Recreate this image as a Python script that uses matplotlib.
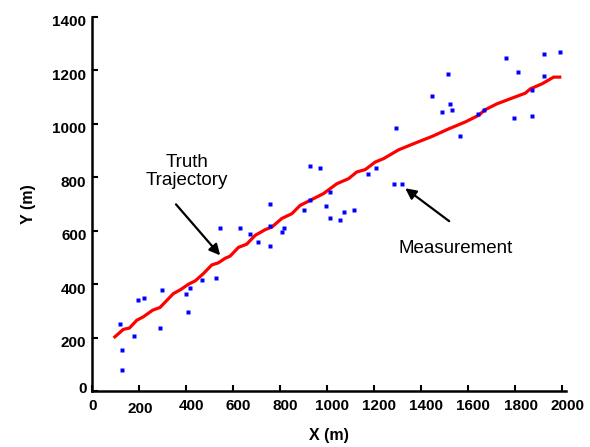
import matplotlib
matplotlib.use("Agg")
import matplotlib.pyplot as plt
import matplotlib.transforms as mtransforms

# Truth trajectory
truth_x = [97, 133, 159, 190, 218, 258, 289, 346, 377, 410, 438, 474, 509, 537, 566, 587,
           623, 658, 694, 736, 765, 807, 850, 885, 928, 984, 1041, 1091, 1126, 1162, 1204,
           1240, 1304, 1374, 1446, 1516, 1587, 1644, 1672, 1722, 1779, 1843, 1864, 1914,
           1963, 1989]
truth_y = [203, 231, 236, 265, 278, 303, 313, 365, 380, 400, 412, 440, 472, 480, 497, 505,
           538, 550, 583, 604, 614, 646, 664, 695, 714, 739, 776, 795, 820, 829, 857,
           870, 903, 928, 953, 981, 1007, 1032, 1053, 1075, 1094, 1115, 1131, 1150,
           1175, 1175]

# Measurements
meas_x = [118, 126, 126, 177, 196, 221, 288, 297, 399, 407, 416, 467, 526, 543, 628, 671,
          705, 756, 756, 756, 807, 816, 901, 926, 926, 969, 995, 1011, 1011, 1054, 1071,
          1114, 1173, 1207, 1284, 1292, 1318, 1446, 1488, 1514, 1522, 1531, 1565, 1641,
          1667, 1761, 1794, 1812, 1871, 1871, 1922, 1922, 1990]
meas_y = [252, 154, 80, 207, 341, 349, 237, 379, 364, 296, 386, 416, 424, 610, 610, 588,
          558, 700, 618, 543, 595, 610, 678, 842, 715, 835, 693, 745, 648, 640, 670,
          678, 812, 835, 775, 984, 775, 1104, 1044, 1186, 1074, 1052, 954, 1037,
          1052, 1246, 1022, 1194, 1127, 1029, 1261, 1179, 1268]

xticks = [0, 200, 400, 600, 800, 1000, 1200, 1400, 1600, 1800, 2000]
yticks = [0, 200, 400, 600, 800, 1000, 1200, 1400]

plt.rcParams['font.family'] = ['Liberation Sans', 'DejaVu Sans']

fig = plt.figure(figsize=(5.90, 4.47), dpi=100)
ax = fig.add_axes([0.156, 0.125, 0.803, 0.837])

ax.plot(truth_x, truth_y, color='#ff0000', lw=2.3, zorder=3)
ax.plot(meas_x, meas_y, linestyle='none', marker='s', markersize=2.5,
        markerfacecolor='#0000ff', markeredgecolor='none', zorder=4)

ax.set_xlim(0, 2015)
ax.set_ylim(0, 1400)
ax.set_xticks(xticks)
ax.set_yticks(yticks)
ax.set_xticklabels([str(t) for t in xticks], fontweight='bold', fontsize=11)
ax.set_yticklabels([str(t) for t in yticks], fontweight='bold', fontsize=11)
ax.tick_params(direction='in', length=4, width=1.5)
ax.tick_params(axis='x', pad=6)
ax.tick_params(axis='y', pad=4)

for s in ['top', 'right']:
    ax.spines[s].set_visible(False)
for s in ['left', 'bottom']:
    ax.spines[s].set_linewidth(1.8)

# per-label offsets (in pixels) to mimic the reference
x_off = [(1, 0), (1, -3), (5, 0), (5, 0), (5, 0), (5, 0), (5, 0), (5, 0), (5, 0), (6, 0), (5, 0)]
for lab, (dx, dy) in zip(ax.get_xticklabels(), x_off):
    lab.set_transform(lab.get_transform() +
                      mtransforms.ScaledTranslation(dx / 100, dy / 100, fig.dpi_scale_trans))
for i, lab in enumerate(ax.get_yticklabels()):
    dy = 4 if i == 0 else -4
    lab.set_transform(lab.get_transform() +
                      mtransforms.ScaledTranslation(0, dy / 100, fig.dpi_scale_trans))

ax.set_xlabel('X (m)', fontweight='bold', fontsize=11.5, labelpad=8)
ax.set_ylabel('Y (m)', fontweight='bold', fontsize=11.5, labelpad=12)

ax.text(404, 823, 'Truth\nTrajectory', ha='center', va='center', fontsize=13.5,
        linespacing=1.05)
ax.text(1545, 535, 'Measurement', ha='center', va='center', fontsize=13.5)

arrow = dict(arrowstyle='-|>', color='black', lw=1.6, mutation_scale=16,
             shrinkA=0, shrinkB=0)
ax.annotate('', xy=(545, 508), xytext=(357, 699), arrowprops=arrow)
ax.annotate('', xy=(1332, 759), xytext=(1519, 636), arrowprops=arrow)

fig.savefig('out.png', dpi=100)
